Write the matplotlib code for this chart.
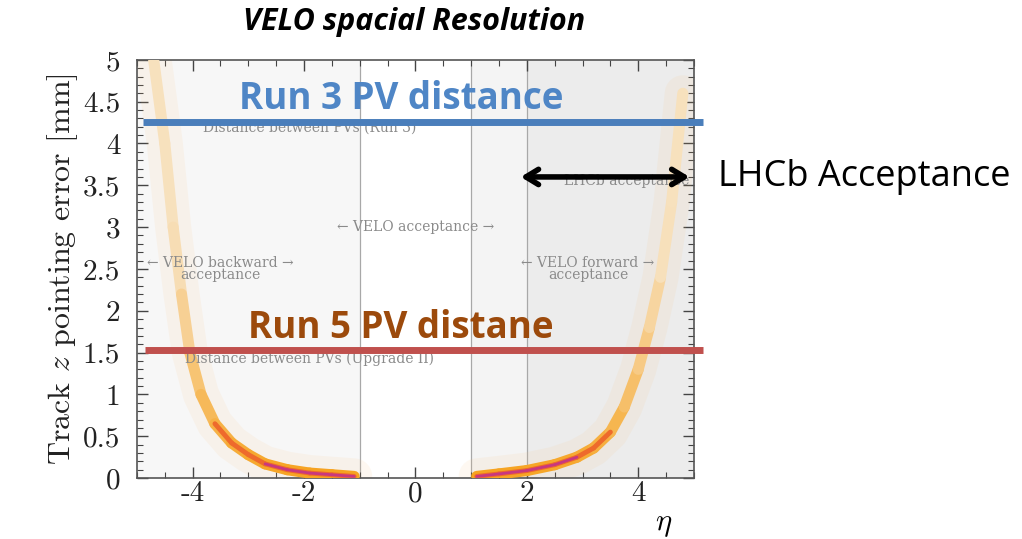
import matplotlib.pyplot as plt
import numpy as np
from matplotlib.collections import LineCollection
from matplotlib.colors import to_rgb

plt.rcParams["mathtext.fontset"] = "cm"

# acceptance regions in eta and their background shade
region_edges = [-5.0, -1.0, 1.0, 2.0, 5.0]
region_shades = ["#f7f7f7", "#ffffff", "#f4f4f4", "#ececec"]
boundary_lines = [-1.0, 1.0, 2.0]

# ridge of the 2D histogram (eta, pointing error in mm)
left_eta = [-4.7, -4.5, -4.35, -4.2, -4.05, -3.85, -3.6, -3.3, -3.0, -2.7, -2.3, -1.9, -1.5, -1.1]
left_err = [5.0, 4.0, 3.0, 2.2, 1.5, 1.0, 0.65, 0.42, 0.28, 0.17, 0.10, 0.06, 0.04, 0.02]
right_eta = [1.1, 1.5, 2.0, 2.5, 2.9, 3.2, 3.5, 3.75, 4.0, 4.2, 4.4, 4.6, 4.8]
right_err = [0.02, 0.05, 0.09, 0.16, 0.25, 0.36, 0.55, 0.85, 1.3, 1.8, 2.4, 3.3, 4.6]

# PV distance lines
run3_pv = 4.26
run5_pv = 1.53

x_ticks = [-4, -2, 0, 2, 4]
y_ticks = [0, 0.5, 1, 1.5, 2, 2.5, 3, 3.5, 4, 4.5, 5]

fig = plt.figure(figsize=(10.22, 5.39), dpi=100)
ax = fig.add_axes([0.134, 0.113, 0.545, 0.776])

for lo, hi, shade in zip(region_edges[:-1], region_edges[1:], region_shades):
    ax.axvspan(lo, hi, color=shade, zorder=0, lw=0)
for xb in boundary_lines:
    ax.axvline(xb, color="#a8a8a8", lw=0.9, zorder=1)


def blend(color, s, base=(0.97, 0.97, 0.97)):
    c = np.array(to_rgb(color))
    return tuple(np.array(base) * (1 - s) + c * s)


def draw_branch(eta, err):
    pts = np.column_stack([eta, err])
    segs = np.stack([pts[:-1], pts[1:]], axis=1)
    mid = 0.5 * (np.asarray(err[:-1]) + np.asarray(err[1:]))
    strength = np.clip(1.0 - mid / 3.2, 0.08, 1.0) ** 1.5
    ax.plot(eta, err, color="#f8c27a", lw=26, alpha=0.10, solid_capstyle="round",
            solid_joinstyle="round", zorder=2)
    body = [blend("#f6a21e", 0.25 + 0.75 * s) for s in strength]
    ax.add_collection(LineCollection(segs, colors=body, linewidths=8, capstyle="round",
                                     joinstyle="round", zorder=3))
    low = mid < 0.6
    ax.add_collection(LineCollection(segs[low], colors="#ee6a2c", linewidths=3.5,
                                     capstyle="round", zorder=4))
    vlow = mid < 0.22
    ax.add_collection(LineCollection(segs[vlow], colors="#c8387f", linewidths=2,
                                     capstyle="round", zorder=5))


draw_branch(left_eta, left_err)
draw_branch(right_eta, right_err)

# faint original annotations
note = dict(color="#8a8a8a", fontsize=10, ha="center", va="center", family="DejaVu Serif", zorder=6)
ax.text(0.0, 3.0, "← VELO acceptance →", **note)
ax.text(-3.5, 2.5, "← VELO backward →\nacceptance", linespacing=0.9, **note)
ax.text(3.1, 2.5, "← VELO forward →\nacceptance", linespacing=0.9, **note)
ax.text(3.8, 3.55, "LHCb acceptance", **note)
ax.text(-1.9, 1.43, "Distance between PVs (Upgrade II)", **note)
ax.text(-1.9, 4.19, "Distance between PVs (Run 3)", **note)

# overlaid PV distance lines
ax.plot([-4.9, 5.16], [run3_pv, run3_pv], color="#4a7ebb", lw=5, solid_capstyle="butt",
        clip_on=False, zorder=7)
ax.plot([-4.85, 5.16], [run5_pv, run5_pv], color="#c0504d", lw=5, solid_capstyle="butt",
        clip_on=False, zorder=7)
ax.text(-0.25, 4.53, "Run 3 PV distance", color="#4f86c6", fontsize=26.5, fontweight="bold",
        family="Open Sans", ha="center", va="center", zorder=8)
ax.text(-0.27, 1.8, "Run 5 PV distane", color="#9c4a0c", fontsize=26.5, fontweight="bold",
        family="Open Sans", ha="center", va="center", zorder=8)

# LHCb acceptance arrow
ax.annotate("", xy=(1.84, 3.6), xytext=(4.97, 3.6), annotation_clip=False,
            arrowprops=dict(arrowstyle="<->,head_length=0.9,head_width=0.55", color="black", lw=4),
            zorder=9)
ax.text(5.43, 3.6, "LHCb Acceptance", fontsize=26, family="Open Sans", ha="left", va="center",
        clip_on=False)

ax.set_xlim(-5, 5)
ax.set_ylim(0, 5)
ax.set_xticks(x_ticks)
ax.set_xticklabels([f"{v:g}" for v in x_ticks])
ax.set_xticks(np.arange(-5, 5.01, 0.5), minor=True)
ax.set_yticks(y_ticks)
ax.set_yticklabels([f"{v:g}" for v in y_ticks])
ax.set_yticks(np.arange(0, 5.01, 0.1), minor=True)
ax.tick_params(which="both", direction="in", top=True, right=True, colors="#444444",
               labelcolor="#222222", labelsize=21)
ax.tick_params(which="major", length=8, width=1)
ax.tick_params(which="minor", length=4, width=0.8)
ax.tick_params(axis="x", pad=2)
ax.tick_params(axis="y", pad=12)
for lab in ax.get_xticklabels() + ax.get_yticklabels():
    lab.set_family("cmr10")
for sp in ax.spines.values():
    sp.set_color("#555555")
    sp.set_linewidth(1.2)

ax.set_ylabel("Track $z$ pointing error [mm]", family="cmr10", fontsize=23, color="#222222",
              labelpad=2)
ax.text(4.45, -0.55, r"$\eta$", fontsize=22, ha="center", va="center", clip_on=False)

fig.text(0.405, 0.959, "VELO spacial Resolution", fontsize=22, fontweight="bold", style="italic",
         family="Open Sans", ha="center", va="center")

fig.savefig("out.png", dpi=100)
